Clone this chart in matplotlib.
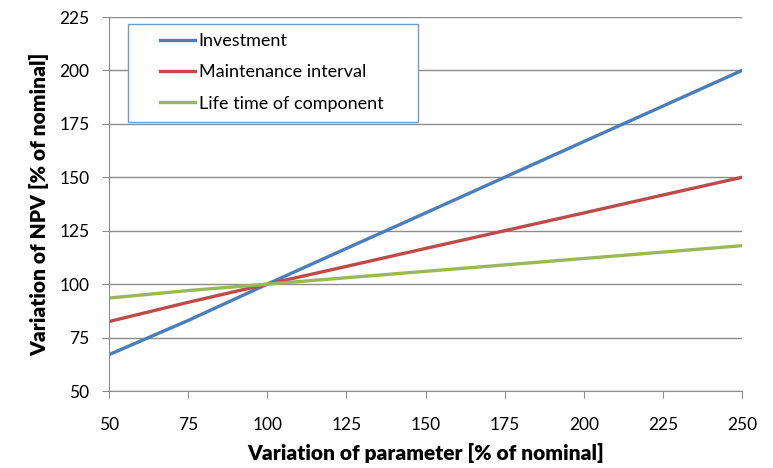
import matplotlib.pyplot as plt
from matplotlib.patches import Rectangle

# data
param = [50, 75, 100, 125, 150, 175, 200, 225, 250]
investment = [67, 83, 100, 116.7, 133.3, 150, 166.7, 183.3, 200]
maintenance = [82.5, 91.5, 100, 108.3, 116.7, 125, 133.3, 141.7, 150]
lifetime = [93.5, 97, 100, 103, 106, 109, 112, 115, 118]

plt.rcParams['font.family'] = ['Lato', 'DejaVu Sans']

W, H = 773, 468
fig = plt.figure(figsize=(W / 100, H / 100), dpi=100)
ax = fig.add_axes([109 / W, 1 - 391 / H, 633 / W, 374 / H])

ax.plot(param, investment, color='#4A7EBB', lw=2.4, label='Investment')
ax.plot(param, maintenance, color='#BE4B48', lw=2.4, label='Maintenance interval')
ax.plot(param, lifetime, color='#98B954', lw=2.4, label='Life time of component')

ax.set_xlim(50, 250)
ax.set_ylim(50, 225)
ax.set_xticks(range(50, 251, 25))
ax.set_yticks(range(50, 226, 25))
ax.grid(axis='y', color='#8c8c8c', lw=1)
ax.set_axisbelow(True)
for s in ['top', 'right']:
    ax.spines[s].set_visible(False)
for s in ['left', 'bottom']:
    ax.spines[s].set_color('#8c8c8c')
ax.tick_params(colors='#8c8c8c', labelcolor='black', labelsize=12.5, length=5)
ax.tick_params(axis='y', pad=9)
ax.tick_params(axis='x', pad=14)

ax.set_xlabel('Variation of parameter [% of nominal]', fontsize=15, fontweight='heavy', labelpad=7)
ax.set_ylabel('Variation of NPV [% of nominal]', fontsize=15, fontweight='heavy', labelpad=7)

# legend box (fixed size, like the reference)
box = Rectangle((128 / W, 1 - 122 / H), 290 / W, 98 / H, transform=fig.transFigure,
                facecolor='white', edgecolor='#6f9bd1', lw=1, zorder=4)
ax.add_patch(box)
box.set_clip_on(False)

leg = ax.legend(loc='upper left', bbox_to_anchor=(160 / W, 1 - 33 / H),
                bbox_transform=fig.transFigure, fontsize=13, frameon=False,
                borderpad=0, labelspacing=0.85, handlelength=1.95,
                handletextpad=0.2, borderaxespad=0)
leg.set_zorder(5)

fig.savefig('out.png', dpi=100)
